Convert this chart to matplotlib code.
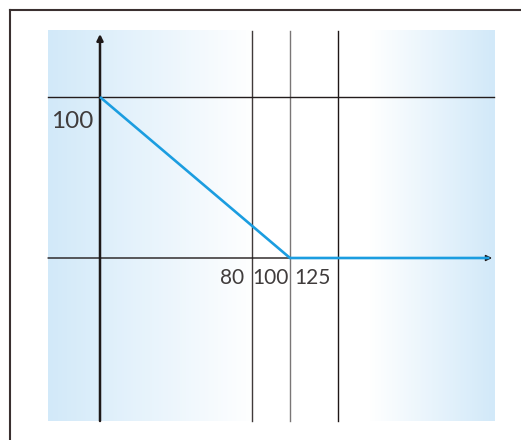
import numpy as np
import matplotlib
matplotlib.use('Agg')
import matplotlib.pyplot as plt
from matplotlib.lines import Line2D

plt.rcParams['font.family'] = ['Lato', 'DejaVu Sans']

# ---- data ----
guide_x = [80, 100, 125]             # vertical guide lines
guide_labels = ['80', '100', '125']
level_y = 100                        # horizontal guide / y label
level_label = '100'
curve_x = [0, 100, 205]
curve_y = [100, 0, 0]

# pixel scale of the schematic (px per unit)
sx, sy = 1.9, 1.61
ox, oy = 100, 258    # origin in pixels (from top-left)
W, H = 521, 440


def px2x(px):
    return (px - ox) / sx


def px2y(py):
    return (oy - py) / sy


fig = plt.figure(figsize=(W / 100, H / 100), dpi=100)
ax = fig.add_axes([0, 0, 1, 1])
ax.set_xlim(px2x(0), px2x(W))
ax.set_ylim(px2y(H), px2y(0))
ax.axis('off')

# background gradient (blue -> white -> blue)
x0, x1 = px2x(48), px2x(495)
y0, y1 = px2y(421), px2y(31)
cols = np.arange(48, 496)
blue = np.array([210, 233, 249]) / 255
t = np.interp(cols, [48, 255, 370, 495], [0, 1, 1, 0])
grad = blue[None, :] * (1 - t[:, None]) + t[:, None]
ax.imshow(grad[None, :, :], extent=[x0, x1, y0, y1], aspect='auto', zorder=0)

# frame (top and left edges)
frame_c = '#3a3030'
fig.add_artist(Line2D([10 / W, 1], [1 - 10 / H] * 2, color=frame_c, lw=1.5,
                      transform=fig.transFigure))
fig.add_artist(Line2D([10 / W] * 2, [0, 1 - 10 / H], color=frame_c, lw=1.5,
                      transform=fig.transFigure))

# vertical guide lines
for gx, c in zip(guide_x, ['#403a3a', '#7a7676', '#1e1616']):
    ax.plot([gx, gx], [y0, y1], color=c, lw=1.0, zorder=2)

# horizontal level line
ax.plot([x0, px2x(494)], [level_y, level_y], color='#231c1c', lw=1.0, zorder=2)

# x axis with arrow
ax.annotate('', xy=(px2x(492), 0), xytext=(x0, 0),
            arrowprops=dict(arrowstyle='-|>', color='#1e1818', lw=1.0,
                            mutation_scale=9, shrinkA=0, shrinkB=0), zorder=3)
# y axis with arrow
ax.annotate('', xy=(0, px2y(34)), xytext=(0, y0),
            arrowprops=dict(arrowstyle='-|>', color='#1e1818', lw=1.8,
                            mutation_scale=9, shrinkA=0, shrinkB=0), zorder=3)

# blue curve
ax.plot(curve_x, curve_y, color='#1b9de0', lw=1.9, zorder=4,
        solid_capstyle='butt', solid_joinstyle='miter')

# labels
txt_c = '#403c3c'
ax.text(px2x(93), px2y(121), level_label, ha='right', va='center',
        fontsize=17.5, color=txt_c)
ax.text(px2x(244), px2y(278), guide_labels[0], ha='right', va='center',
        fontsize=15, color=txt_c)
ax.text(px2x(270), px2y(278), guide_labels[1], ha='center', va='center',
        fontsize=15, color=txt_c)
ax.text(px2x(294), px2y(278), guide_labels[2], ha='left', va='center',
        fontsize=15, color=txt_c)

fig.savefig('out.png', dpi=100)
